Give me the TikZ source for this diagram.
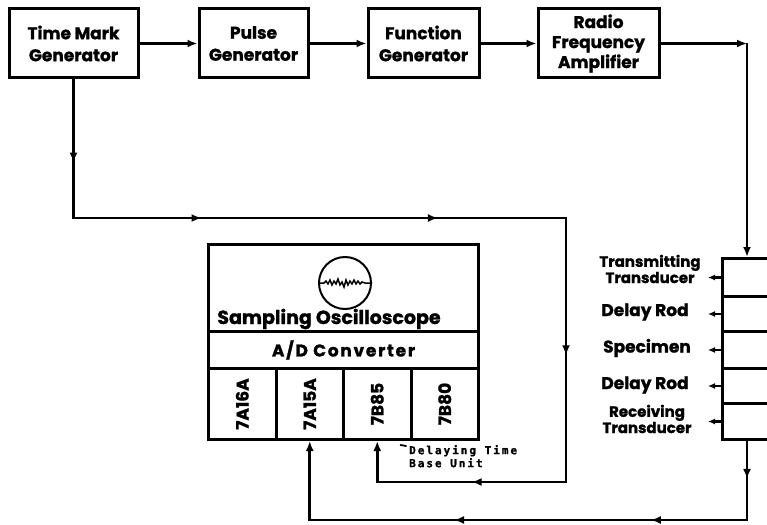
\documentclass[tikz,border=0pt]{standalone}
\usepackage{fontspec}
\setsansfont{Poppins}[BoldFeatures={FakeBold=1.2}]
\newfontfamily\widefont{Poppins}[LetterSpace=10, BoldFeatures={FakeBold=1.2}]
\newfontfamily\notefont{DejaVu Sans Mono}[LetterSpace=18, BoldFeatures={FakeBold=1}]
\usetikzlibrary{positioning,calc,arrows.meta,decorations.markings}

\begin{document}
\begin{tikzpicture}[
	x=1pt, y=-1pt,
	block/.style={
		draw=black, line width=3pt,
		align=center, inner sep=0pt,
		minimum height=69pt,
		font=\sffamily\bfseries\fontsize{17}{22}\selectfont
	},
	panel/.style={
		draw=black, line width=3pt,
		anchor=north west, inner sep=0pt
	},
	wire/.style={
		line width=2.6pt, line cap=rect
	},
	conn/.style={
		-{Latex[length=10pt,width=8pt]}, line width=2.6pt
	},
	midarr/.style={
		postaction={decorate, decoration={markings,
			mark=at position #1 with {\arrow{Latex[length=10pt,width=8pt]}}}}
	},
	tag/.style={
		-{Latex[length=7pt,width=6pt]}, line width=2.2pt
	},
	part/.style={
		font=\sffamily\bfseries\fontsize{17}{18}\selectfont, align=center
	},
	part_small/.style={
		font=\sffamily\bfseries\fontsize{15}{15}\selectfont, align=center
	}
	]
	\useasboundingbox (0,0) rectangle (767,524);
	\clip (0,0) rectangle (767,524);
	
	% Các khối phía trên
	\node[block, minimum width=129pt] (tm) at (73.5,43.5) {Time Mark\\Generator};
	\node[block, minimum width=109pt] (pulse) at (253.5,43.5) {Pulse\\Generator};
	\node[block, minimum width=111pt] (func) at (423.5,43.5) {Function\\Generator};
	\node[block, minimum width=121pt, font=\sffamily\bfseries\fontsize{17}{20}\selectfont] (rf) at (598.5,43.5) {Radio\\Frequency\\Amplifier};
	
	\draw[conn] (tm) -- (pulse);
	\draw[conn] (pulse) -- (func);
	\draw[conn] (func) -- (rf);
	
	% Cột mẫu đo
	\foreach \i/\t/\h in {1/257/38, 2/295/35, 3/330/37, 4/367/35, 5/402/36} {
		\node[panel, minimum width=90pt, minimum height=\h pt] (s\i) at (721,\t) {};
		\coordinate (a\i) at ([xshift=-13pt]s\i.west);
		\draw[tag] (s\i.west) -- (a\i);
	}
	\node[part_small] (l1) at (650,269) {Transmitting\\Transducer};
	\node[part] (l2) at (645,312) {Delay Rod};
	\node[part] (l3) at (647,348) {Specimen};
	\node[part] (l4) at (645,385) {Delay Rod};
	\node[part_small] (l5) at (647,419) {Receiving\\Transducer};
	
	\coordinate (cR) at (747,43.5);
	\draw[conn] (rf) -- (cR);
	\draw[conn] (cR) -- (cR |- s1.north);
	
	% Máy hiện sóng
	\node[panel, minimum width=270pt, minimum height=87pt] (scope) at (207,243) {};
	\node[draw, circle, line width=2pt, minimum size=52pt, inner sep=0pt] (screen) at (345,283) {};
	\draw[line width=1.5pt] (screen.west) -- (324,283) -- (326,281) -- (328,284) -- (330,280)
		-- (332,285) -- (334,281) -- (336,284) -- (338,279) -- (340,285) -- (342,282)
		-- (344,287) -- (346,280) -- (348,285) -- (350,281) -- (352,284) -- (354,280)
		-- (356,284) -- (358,281) -- (360,284) -- (362,282) -- (365,283) -- (screen.east);
	\node[font=\sffamily\bfseries\fontsize{19}{20}\selectfont] (scopename) at (329,319) {Sampling Oscilloscope};
	\node[panel, minimum width=270pt, minimum height=37pt,
		font=\widefont\bfseries\fontsize{17}{18}\selectfont] (adc) at (207,330) {A/D Converter};
	\foreach \lbl [count=\i] in {7A16A,7A15A,7B85,7B80} {
		\node[panel, minimum width=67.5pt, minimum height=71pt] (c\i) at ({207+67.5*(\i-1)},367) {};
		\node[rotate=90, font=\sffamily\bfseries\fontsize{17}{18}\selectfont] (n\i) at (c\i) {\lbl};
	}
	
	\node[font=\notefont\bfseries\fontsize{11}{13}\selectfont, align=left, anchor=north west, inner sep=0pt] (dtb) at (409,445) {Delaying Time\\Base Unit};
	\draw[line width=1.8pt, line cap=round] ([shift={(-3,1)}]dtb.north west) -- ([shift={(-12,4)}]c3.south east);
	
	% Đường mốc thời gian
	\coordinate (t1) at (tm.south |- 0,218);
	\coordinate (t2) at (566,218);
	\coordinate (t3) at (566,482);
	\coordinate (t4) at (c3.south |- t3);
	\draw[wire, midarr=0.6] (tm.south) -- (t1);
	\draw[wire, midarr=0.26, midarr=0.74] (t1) -- (t2);
	\draw[wire, midarr=0.52] (t2) -- (t3);
	\draw[wire, midarr=0.5] (t3) -- (t4);
	\draw[conn] (t4) -- (c3.south);
	
	% Tín hiệu thu về
	\coordinate (b0) at (cR |- s5.south);
	\coordinate (b1) at (747,520);
	\coordinate (b2) at (c2.south |- b1);
	\draw[wire, midarr=0.48] (b0) -- (b1);
	\draw[wire, midarr=0.22, midarr=0.67] (b1) -- (b2);
	\draw[conn] (b2) -- (c2.south);
	
\end{tikzpicture}
\end{document}
